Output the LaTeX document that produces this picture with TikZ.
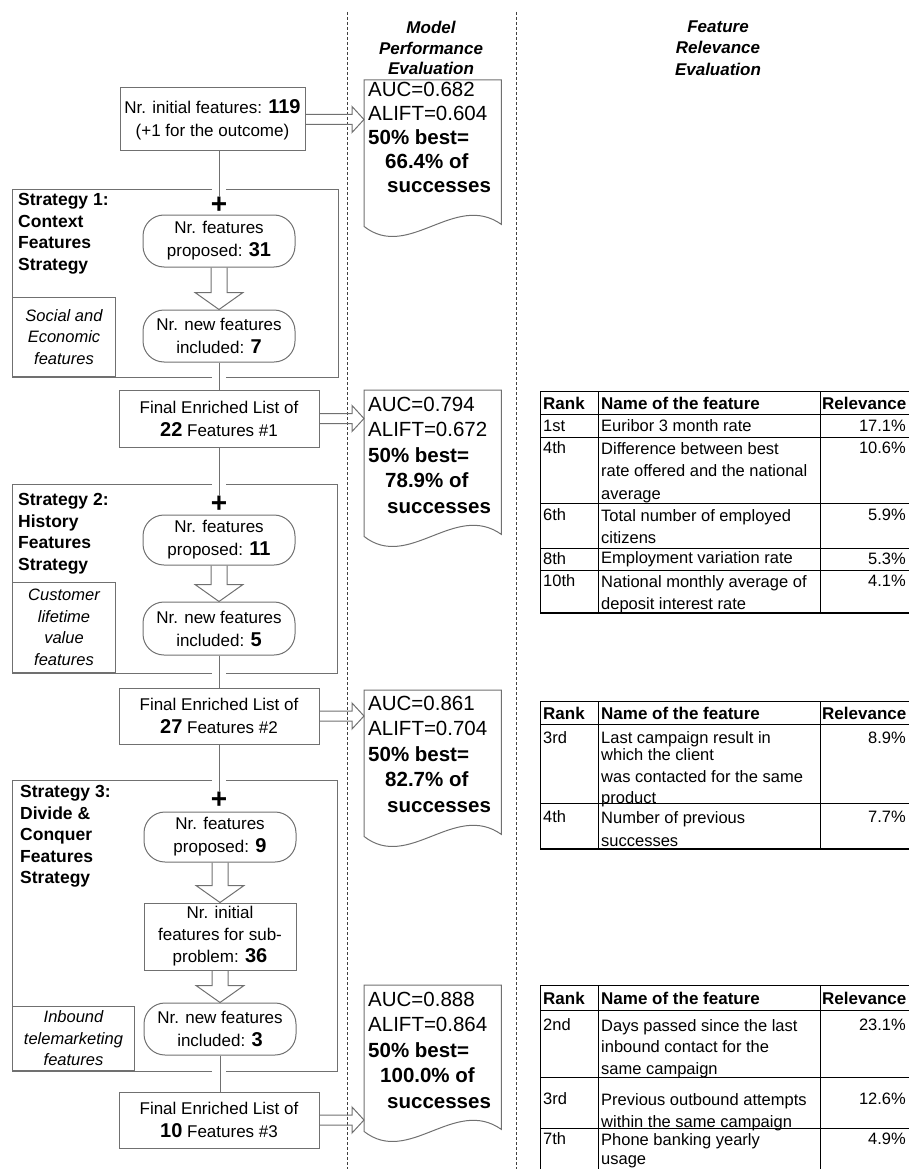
\documentclass[tikz,border=0pt]{standalone}
\usepackage{fontspec}
\setmainfont{Liberation Sans}
\usetikzlibrary{calc}
\definecolor{linegray}{HTML}{707070}
\definecolor{dashgray}{HTML}{404040}
\newcommand{\fsz}[2]{\fontsize{#1}{#2}\selectfont}
\newcommand{\numb}[1]{{\fsz{20}{23}\bfseries #1}}
\newcommand{\harrow}[2]{%
  \draw[hollowarrow] ($(#1.east)+(0,-5)$) -- ($(#2.west |- #1.east)+(-12,-5)$) -- ($(#2.west |- #1.east)+(-12,-13)$) -- (#2.west |- #1.east) -- ($(#2.west |- #1.east)+(-12,13)$) -- ($(#2.west |- #1.east)+(-12,5)$) -- ($(#1.east)+(0,5)$);}
\newcommand{\barrow}[2]{%
  \draw[blockarrow] ($(#1.south)+(-8,0)$) -- ($(#2.north)+(-8,-17)$) -- ($(#2.north)+(-24,-17)$) -- (#2.north) -- ($(#2.north)+(24,-17)$) -- ($(#2.north)+(8,-17)$) -- ($(#1.south)+(8,0)$);}
\newcommand{\docoutline}[1]{%
  \draw[fline] (#1.north west) -- (#1.north east) -- ($(#1.south east)+(0,-2)$) .. controls ($(#1.south)+(22,-35)$) and ($(#1.south)+(-24,35)$) .. (#1.south west) -- cycle;}
\begin{document}
\begin{tikzpicture}[x=1pt,y=-1pt,
  fline/.style={draw=linegray, line width=1pt},
  flowbox/.style={fline, rectangle, inner sep=0pt, align=center, font=\fsz{17}{23}},
  stadium/.style={flowbox, rounded corners=21pt, minimum width=152pt},
  sidebox/.style={fline, rectangle, inner sep=0pt, align=center, anchor=south west, font=\fsz{16.5}{21.5}\itshape},
  stratlabel/.style={inner sep=0pt, align=left, anchor=north west, font=\fsz{17.5}{21.5}\bfseries},
  plussign/.style={inner sep=0pt, font=\fsz{28}{28}\bfseries},
  docshape/.style={rectangle, inner sep=0pt, minimum width=137pt, minimum height=146pt, anchor=north west},
  doctext/.style={inner sep=0pt, align=left, anchor=north west},
  blockarrow/.style={fline, line join=miter},
  hollowarrow/.style={fline, line join=miter},
  divider/.style={draw=dashgray, line width=0.8pt, dash pattern=on 3pt off 2pt},
  colhead/.style={inner sep=0pt, anchor=west, font=\fsz{17}{22}\bfseries},
  tcell/.style={inner sep=0pt, anchor=west, font=\fsz{16.5}{22}},
  mcell/.style={inner sep=0pt, anchor=north west, align=left, font=\fsz{16.5}{22}},
  tval/.style={inner sep=0pt, anchor=east, font=\fsz{16.5}{22}},
  tabrule/.style={draw=black, line width=1pt},
  tabthick/.style={draw=black, line width=2pt},
  evalhead/.style={inner sep=0pt, align=center, font=\fsz{17}{20.5}\bfseries\itshape},
]
\useasboundingbox (0,0) rectangle (909,1169);
\clip (0,0) rectangle (909,1169);

% dashed column dividers
\coordinate (dv1t) at (347,12);
\coordinate (dv1b) at (347,1175);
\coordinate (dv2t) at (516,12);
\coordinate (dv2b) at (516,1175);
\draw[divider] (dv1t) -- (dv1b);
\draw[divider] (dv2t) -- (dv2b);

% column headers
\node[evalhead] (hmodel) at (431,48) {Model\\Performance\\Evaluation};
\node[evalhead, font=\fsz{17}{21.5}\bfseries\itshape] (hfeat) at (718,48) {Feature\\Relevance\\Evaluation};

% ---------- initial box ----------
\node[flowbox, minimum width=185pt, minimum height=63pt] (box1) at (212.5,119.5) {Nr. initial features: \numb{119}\\(+1 for the outcome)};

% ---------- strategy 1 ----------
\draw[fline] (212,190) -- (12,190) -- (12,377) -- (212,377);
\draw[fline] (226,377) -- (338,377) -- (338,190) -- (226,190);
\node[plussign] (plus1) at (219,205) {+};
\node[stratlabel] (st1) at (18,193.4) {Strategy 1:\\Context\\Features\\Strategy};
\node[stadium, minimum height=52pt] (s1a) at (219,241) {Nr. features\\proposed: \numb{31}};
\node[stadium, minimum height=52pt] (s1b) at (219,336) {Nr. new features\\included: \numb{7}};
\node[sidebox, minimum width=103pt, minimum height=79pt] (sb1) at (12,377) {Social and\\Economic\\features};
\node[flowbox, minimum width=200pt, minimum height=57pt] (f1) at (219,418.5) {Final Enriched List of\\\numb{22} Features \#1};
\draw[fline] (plus1.north |- box1.south) -- (plus1.north);
\barrow{s1a}{s1b}
\draw[fline] (s1b.south) -- (f1.north);

% ---------- strategy 2 ----------
\draw[fline] (212,484) -- (12,484) -- (12,673) -- (212,673);
\draw[fline] (226,673) -- (337,673) -- (337,484) -- (226,484);
\node[plussign] (plus2) at (219,504) {+};
\node[stratlabel] (st2) at (18,493.4) {Strategy 2:\\History\\Features\\Strategy};
\node[stadium, minimum height=50pt] (s2a) at (219,540) {Nr. features\\proposed: \numb{11}};
\node[stadium, minimum height=53pt] (s2b) at (219,628.5) {Nr. new features\\included: \numb{5}};
\node[sidebox, minimum width=103pt, minimum height=90pt] (sb2) at (12,673) {Customer\\lifetime\\value\\features};
\node[flowbox, minimum width=200pt, minimum height=56pt] (f2) at (219,716) {Final Enriched List of\\\numb{27} Features \#2};
\draw[fline] (f1.south) -- (plus2.north);
\barrow{s2a}{s2b}
\draw[fline] (s2b.south) -- (f2.north);

% ---------- strategy 3 ----------
\draw[fline] (212,780) -- (12,780) -- (12,1071) -- (212,1071);
\draw[fline] (226,1071) -- (337,1071) -- (337,780) -- (226,780);
\node[plussign] (plus3) at (219,800) {+};
\node[stratlabel] (st3) at (20,785.4) {Strategy 3:\\Divide \&\\Conquer\\Features\\Strategy};
\node[stadium, minimum height=50pt] (s3a) at (220,837) {Nr. features\\proposed: \numb{9}};
\node[flowbox, minimum width=152pt, minimum height=67pt, font=\fsz{17}{22}] (r3) at (220,936.5) {Nr. initial\\features for sub-\\problem: \numb{36}};
\node[stadium, minimum height=52pt] (s3b) at (220,1029) {Nr. new features\\included: \numb{3}};
\node[sidebox, minimum width=122pt, minimum height=64pt] (sb3) at (12,1071) {Inbound\\telemarketing\\features};
\node[flowbox, minimum width=200pt, minimum height=56pt] (f3) at (219,1120) {Final Enriched List of\\\numb{10} Features \#3};
\draw[fline] (f2.south) -- (plus3.north);
\barrow{s3a}{r3}
\barrow{r3}{s3b}
\draw[fline] (s3b.south) -- (s3b.south |- f3.north);

% ---------- model performance documents ----------
\node[docshape] (d1) at (364,80) {};
\node[docshape] (d2) at (364,390) {};
\node[docshape] (d3) at (364,690) {};
\node[docshape] (d4) at (364,985) {};
\docoutline{d1}
\docoutline{d2}
\docoutline{d3}
\docoutline{d4}
\node[doctext, font=\fsz{20.5}{24}] (t1) at (368,81.7) {AUC=0.682\\ALIFT=0.604\\\textbf{50\% best=}\\\hspace*{17pt}\textbf{66.4\% of}\\\hspace*{19pt}\textbf{successes}};
\node[doctext, font=\fsz{20.5}{25.5}] (t2) at (368,396.7) {AUC=0.794\\ALIFT=0.672\\\textbf{50\% best=}\\\hspace*{17pt}\textbf{78.9\% of}\\\hspace*{19pt}\textbf{successes}};
\node[doctext, font=\fsz{20.5}{25.5}] (t3) at (368,695.7) {AUC=0.861\\ALIFT=0.704\\\textbf{50\% best=}\\\hspace*{17pt}\textbf{82.7\% of}\\\hspace*{19pt}\textbf{successes}};
\node[doctext, font=\fsz{20.5}{25.5}] (t4) at (368,991.7) {AUC=0.888\\ALIFT=0.864\\\textbf{50\% best=}\\\hspace*{12pt}\textbf{100.0\% of}\\\hspace*{19pt}\textbf{successes}};

\harrow{box1}{d1}
\harrow{f1}{d2}
\harrow{f2}{d3}
\harrow{f3}{d4}

% ---------- table 1 ----------
\draw[tabrule] (540,391) rectangle (915,613);
\foreach \yy in {414,437,503,548,570} \draw[tabrule] (540,\yy) -- (915,\yy);
\draw[tabrule] (598,391) -- (598,613);
\draw[tabrule] (820,391) -- (820,613);
\draw[tabthick] (540,613) -- (915,613);
\node[colhead] (ah1) at (543,403) {Rank};
\node[colhead] (ah2) at (601,403) {Name of the feature};
\node[colhead] (ah3) at (822,403) {Relevance};
\node[tcell] (ar1) at (543,426) {1st};
\node[tcell] (an1) at (601,426) {Euribor 3 month rate};
\node[tval] (av1) at (906,426) {17.1\%};
\node[tcell] (ar2) at (543,448) {4th};
\node[mcell, font=\fsz{16.5}{22.5}] (an2) at (601,442) {Difference between best\\rate offered and the national\\average};
\node[tval] (av2) at (906,448) {10.6\%};
\node[tcell] (ar3) at (543,515) {6th};
\node[mcell] (an3) at (601,509) {Total number of employed\\citizens};
\node[tval] (av3) at (906,515) {5.9\%};
\node[tcell] (ar4) at (543,559) {8th};
\node[tcell] (an4) at (601,559) {Employment variation rate};
\node[tval] (av4) at (906,559) {5.3\%};
\node[tcell] (ar5) at (543,581) {10th};
\node[mcell] (an5) at (601,575) {National monthly average of\\deposit interest rate};
\node[tval] (av5) at (906,581) {4.1\%};

% ---------- table 2 ----------
\draw[tabrule] (540,701) rectangle (915,849);
\foreach \yy in {724,803} \draw[tabrule] (540,\yy) -- (915,\yy);
\draw[tabrule] (598,701) -- (598,849);
\draw[tabrule] (820,701) -- (820,849);
\draw[tabthick] (540,849) -- (915,849);
\node[colhead] (bh1) at (543,713) {Rank};
\node[colhead] (bh2) at (601,713) {Name of the feature};
\node[colhead] (bh3) at (822,713) {Relevance};
\node[tcell] (br1) at (543,738) {3rd};
\node[mcell] (bn1) at (601,731) {Last campaign result in\\[-5pt]which the client\\was contacted for the same\\[-1pt]product};
\node[tval] (bv1) at (906,738) {8.9\%};
\node[tcell] (br2) at (543,817) {4th};
\node[mcell, font=\fsz{16.5}{23}] (bn2) at (601,811) {Number of previous\\successes};
\node[tval] (bv2) at (906,817) {7.7\%};

% ---------- table 3 ----------
\draw[tabrule] (540,1180) -- (540,985) -- (915,985);
\foreach \yy in {1010,1077,1128} \draw[tabrule] (540,\yy) -- (915,\yy);
\draw[tabrule] (598,985) -- (598,1180);
\draw[tabrule] (820,985) -- (820,1180);
\node[colhead] (ch1) at (543,998) {Rank};
\node[colhead] (ch2) at (601,998) {Name of the feature};
\node[colhead] (ch3) at (822,998) {Relevance};
\node[tcell] (cr1) at (543,1025) {2nd};
\node[mcell, font=\fsz{16.5}{21.5}] (cn1) at (601,1019) {Days passed since the last\\inbound contact for the\\same campaign};
\node[tval] (cv1) at (906,1025) {23.1\%};
\node[tcell] (cr2) at (543,1099) {3rd};
\node[mcell] (cn2) at (601,1093) {Previous outbound attempts\\within the same campaign};
\node[tval] (cv2) at (906,1099) {12.6\%};
\node[tcell] (cr3) at (543,1139) {7th};
\node[mcell, font=\fsz{16.5}{19}] (cn3) at (601,1133) {Phone banking yearly\\usage};
\node[tval] (cv3) at (906,1139) {4.9\%};
\end{tikzpicture}
\end{document}
